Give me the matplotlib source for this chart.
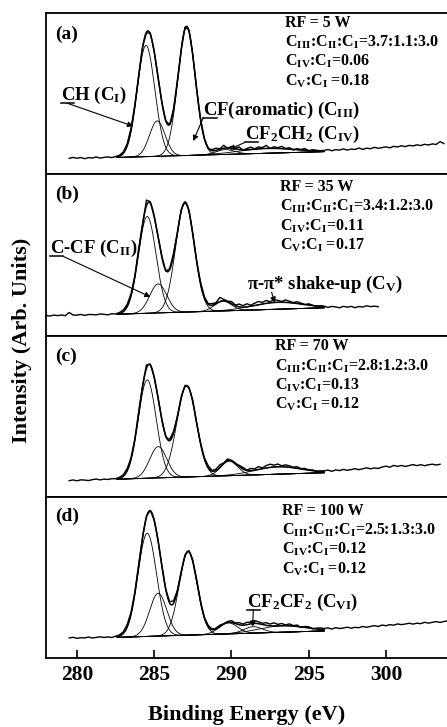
import numpy as np
import matplotlib
matplotlib.use('Agg')
import matplotlib.pyplot as plt

plt.rcParams.update({
    'font.family': 'Liberation Serif',
    'font.weight': 'bold',
    'mathtext.fontset': 'custom',
    'mathtext.rm': 'Liberation Serif:bold',
    'mathtext.it': 'Liberation Serif:bold',
    'mathtext.bf': 'Liberation Serif:bold',
    'mathtext.default': 'rm',
})

# C1s fit results: peak centre (eV), height and gaussian sigma (arb. units)
rf_power = ['5', '35', '70', '100']
ratio_main = ['3.7:1.1:3.0', '3.4:1.2:3.0', '2.8:1.2:3.0', '2.5:1.3:3.0']
ratio_iv = ['0.06', '0.11', '0.13', '0.12']
ratio_v = ['0.18', '0.17', '0.12', '0.12']

centers_a = [284.47, 285.20, 287.10, 289.60, 292.30]
heights_a = [69.0, 22.0, 80.0, 3.0, 3.0]
sigmas_a = [0.57, 0.50, 0.56, 0.60, 1.80]

centers_b = [284.55, 285.26, 287.00, 289.45, 293.00]
heights_b = [60.0, 18.0, 68.0, 6.0, 4.3]
sigmas_b = [0.57, 0.55, 0.60, 0.55, 1.60]

centers_c = [284.55, 285.26, 287.10, 289.85, 293.00]
heights_c = [61.0, 19.4, 56.7, 9.0, 4.6]
sigmas_c = [0.58, 0.55, 0.63, 0.55, 1.50]

centers_d = [284.55, 285.26, 287.20, 289.80, 291.40, 293.30]
heights_d = [64.0, 26.6, 52.0, 6.8, 4.0, 4.0]
sigmas_d = [0.60, 0.55, 0.58, 0.60, 0.60, 1.50]

# linear background: value at 280 eV and slope per eV
bg_start = [9.7, 12.4, 10.1, 12.0]
bg_slope = [0.27, 0.30, 0.30, 0.30]
fit_range = (282.6, 296.0)

# measured spectra, 0.25 eV steps, stored as deviation from the fit
raw_start = [279.5, 278.0, 279.5, 279.5]
raw_a = [0.3, 0.8, 0.2, 0.6, -0.2, 0.4, 0.1, 0.7, -0.1, 0.3, 0.5, 0.0, 0.4, 0.6,
         0.8, 1.2, 1.5, 0.9, 0.3, 0.6, -0.4, 0.8, 0.2, -0.5, 0.3, 0.0, -0.3, 0.6,
         0.4, -0.6, 0.9, 0.5, 0.2, -0.4, 0.3, 0.0,
         -0.5, 0.6, 1.4, 0.3, 1.8, -0.2, 1.1, 0.4, 1.6, -0.3, 0.8, 1.5, 0.2, 1.2,
         0.6, 1.9, -0.1, 1.0, 0.5, 1.4, 0.2, 0.9, -0.4, 0.7, 0.3, 1.1, -0.2, 0.6,
         0.4, 0.1,
         0.4, 1.0, 0.2, 0.9, 0.6, 1.3, 0.5, 1.1, 0.8, 1.6, 0.7, 1.4, 1.0, 1.8,
         1.1, 1.5, 1.9, 1.2, 2.1, 1.6, 2.3, 1.7, 2.4, 2.0, 2.6, 2.1, 2.8, 2.3,
         2.9, 2.5, 4.2, 2.9]
raw_b = [0.5, 0.2, 0.7, 0.3, 0.6, 0.1, 2.0, 0.4, 0.2, 0.6, -0.1, 0.4, 0.3, 0.0,
         0.5, 0.2, -0.2, 0.4, 0.1, 0.6,
         1.0, 1.4, 1.2, 0.6, 1.5, -0.8, 3.5, 1.0, -0.5, 0.4, 0.8, -0.6, 0.5, 1.2,
         -0.4, 0.9, 0.3, 1.0, 0.6, 0.2, 1.2, 0.8,
         0.3, 1.0, 0.5, 2.5, 0.8, 0.2, 1.3, 0.4, 1.7, 0.9, 1.9, 0.6, 1.4, 2.0,
         1.0, 1.8, 0.7, 1.6, 1.2, 0.5, 1.5, 0.9, 0.3, 1.1, 0.6, 0.0, 0.8, 0.2,
         -0.3, 0.4,
         0.2, -0.4, 0.3, 0.0, -0.5, 0.4, -0.2, 0.3, -0.6, 0.1, -0.3, 0.4, -0.2,
         0.0, -0.4]
raw_c = [0.0, 0.4, -0.2, 0.3, 0.1, -0.3, 0.2, 0.5, -0.1, 0.3, 0.0, 0.4, 0.2, 0.6,
         0.9, 1.3, 1.0, 0.5, 1.2, 0.4, 2.0, 0.6, -0.3, 0.5, 0.2, -0.6, 0.7, 1.0,
         -0.5, 0.6, 0.8, 0.3, 1.1, -0.2, 0.5, 0.7,
         1.2, 0.4, 0.9, 1.6, 0.3, 1.1, 0.2, -0.5, 0.6, 1.0, 0.2, 1.4, 0.8, 1.8,
         0.5, 1.5, 2.0, 1.1, 1.7, 0.6, 1.3, 0.9, 0.4, 1.0, 0.2, 0.7, 0.1, 0.5,
         -0.2, 0.3,
         0.6, 1.1, 0.4, 1.3, 0.9, 1.6, 1.0, 1.4, 1.9, 1.2, 1.7, 2.2, 1.5, 2.0,
         1.6, 2.4, 2.9, 2.1, 3.2, 2.5, 3.0, 2.3, 2.8, 3.3, 2.6, 3.1, 2.4, 2.9,
         3.2, 2.6, 3.0]
raw_d = [0.6, 0.9, 0.2, 0.5, 0.3, 0.8, 0.1, 0.4, 0.7, 0.2, 0.5, 0.0, 0.6, 0.8,
         1.0, 1.5, 1.2, 0.8, 1.0, 0.5, 0.6, 0.3, -0.2, 0.4, 0.6, 0.1, 0.8, 1.5,
         0.3, 0.2, 0.7, 0.5, 0.9, 1.2, 0.6, 0.4,
         0.8, 0.3, 0.5, 0.9, 0.2, 0.6, 1.1, 0.4, 1.3, 0.7, 1.5, 1.0, 1.7, 1.2,
         0.8, 1.6, 1.1, 1.9, 0.9, 1.4, 0.5, 1.2, 0.3, 0.9, -0.3, 0.6, 0.8, -0.2,
         0.5, 0.9,
         0.7, 1.2, 0.6, 1.5, 1.0, 1.3, 1.8, 1.1, 1.6, 1.3, 2.0, 1.4, 1.9, 2.3,
         1.7, 2.5, 2.0, 2.6, 2.2, 2.9, 2.4, 2.7, 3.1, 2.5, 3.0, 2.6, 3.4, 2.8,
         3.2, 3.6, 3.0, 3.5, 3.9]
raw_step = 0.25

panels = [
    (centers_a, heights_a, sigmas_a, raw_a),
    (centers_b, heights_b, sigmas_b, raw_b),
    (centers_c, heights_c, sigmas_c, raw_c),
    (centers_d, heights_d, sigmas_d, raw_d),
]
letters = ['(a)', '(b)', '(c)', '(d)']
letter_y = [0.87, 0.876, 0.87, 0.879]
info_x = [293.45, 293.15, 292.8, 293.3]
info_y = [0.938, 0.919, 0.932, 0.913]


def background(x, i):
    return bg_start[i] + bg_slope[i] * (x - 280)


def gauss(x, c, h, s):
    return h * np.exp(-0.5 * ((x - c) / s) ** 2)


def envelope(x, i):
    cen, hgt, sig, _ = panels[i]
    y = background(x, i)
    for c, h, s in zip(cen, hgt, sig):
        y = y + gauss(x, c, h, s)
    return y


fig, axes = plt.subplots(4, 1, sharex=True, figsize=(4.47, 7.27), dpi=100)
fig.subplots_adjust(left=46 / 447, right=1.0, top=1 - 13 / 727,
                    bottom=1 - 658 / 727, hspace=0)

for i, ax in enumerate(axes):
    cen, hgt, sig, raw = panels[i]
    xf = np.linspace(fit_range[0], fit_range[1], 800)
    bg = background(xf, i)
    for c, h, s in zip(cen, hgt, sig):
        ax.plot(xf, bg + gauss(xf, c, h, s), color='k', lw=0.6)
    ax.plot(xf, bg, color='k', lw=0.7)
    ax.plot(xf, envelope(xf, i), color='k', lw=1.1)
    xr = raw_start[i] + raw_step * np.arange(len(raw))
    ax.plot(xr, envelope(xr, i) + np.array(raw), color='k', lw=1.0)

    ax.set_ylim(0, 100)
    ax.set_yticks([])
    ax.spines['right'].set_visible(False)
    for s in ['left', 'top', 'bottom']:
        ax.spines[s].set_linewidth(1.3)
    ax.tick_params(axis='x', direction='in', length=6, width=1.2,
                   labelsize=15.5, pad=5, top=False, bottom=(i == 3))

    ax.text(0.022, letter_y[i], letters[i], transform=ax.transAxes,
            va='center', fontsize=14)
    lines = ['RF = %s W' % rf_power[i],
             'C$_{III}$:C$_{II}$:C$_{I}$=' + ratio_main[i],
             'C$_{IV}$:C$_{I}$=' + ratio_iv[i],
             'C$_{V}$:C$_{I}$ =' + ratio_v[i]]
    for k, line in enumerate(lines):
        ax.text(info_x[i], info_y[i] - 0.12 * k, line, va='center',
                fontsize=11.5, transform=ax.get_xaxis_transform())

axes[-1].set_xlim(278, 303.95)
axes[-1].set_xticks([280, 285, 290, 295, 300])

fig.text(22 / 447, 1 - 340 / 727, 'Intensity (Arb. Units)', rotation=90,
         ha='center', va='center', fontsize=16)
fig.text(247 / 447, 1 - 715 / 727, 'Binding Energy (eV)',
         ha='center', va='center', fontsize=16)

arrow_kw = dict(arrowstyle='-|>', color='k', lw=0.8, mutation_scale=8,
                shrinkA=0, shrinkB=0)
renderer = fig.canvas.get_renderer()
LABEL_SIZE = 13.5


def tagged_label(ax, x, y, label, tip, start='center'):
    """Label with the first C underlined and an arrow from the underline."""
    ax.text(x, y, label, ha='left', va='baseline', fontsize=LABEL_SIZE)
    probe = ax.text(x, y, label[0], ha='left', va='baseline', fontsize=LABEL_SIZE)
    bb = probe.get_window_extent(renderer)
    probe.remove()
    xb, yb = ax.transData.transform((x, y))
    inv = ax.transData.inverted()
    (ux0, uy), (ux1, _) = inv.transform([(bb.x0, yb - 3), (bb.x1, yb - 3)])
    ax.plot([ux0, ux1], [uy, uy], color='k', lw=1.1, clip_on=False)
    sx = {'left': ux0, 'right': ux1, 'center': 0.5 * (ux0 + ux1)}[start]
    ax.annotate('', xy=tip, xytext=(sx, uy), arrowprops=arrow_kw)


tagged_label(axes[0], 278.94, 45.9, 'CH (C$_{I}$)', (283.64, 29.8), 'center')
tagged_label(axes[0], 288.18, 37.0, 'CF(aromatic) (C$_{III}$)', (287.53, 20.6), 'left')
tagged_label(axes[0], 290.87, 21.6, 'CF$_2$CH$_2$ (C$_{IV}$)', (289.86, 15.4), 'left')
tagged_label(axes[1], 278.25, 50.9, 'C-CF (C$_{II}$)', (284.76, 23.9), 'right')
tagged_label(axes[3], 290.98, 31.9, 'CF$_2$CF$_2$ (C$_{VI}$)', (291.37, 19.4), 'center')

axes[1].text(290.98, 28.6, 'π-π* shake-up (C$_{V}$)', ha='left',
             va='baseline', fontsize=LABEL_SIZE)
axes[1].annotate('', xy=(292.8, 20.3), xytext=(292.6, 26.8), arrowprops=arrow_kw)

fig.savefig('out.png', dpi=100)
